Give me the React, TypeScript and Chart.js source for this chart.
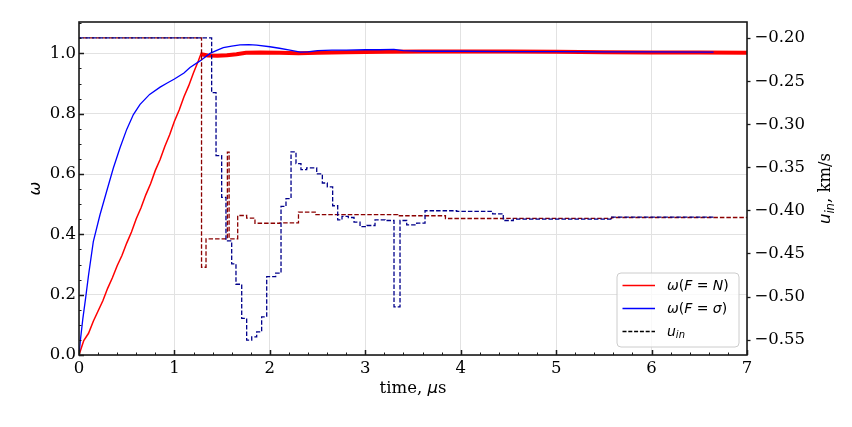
import { useEffect, useRef } from 'react'
import { Chart, registerables } from 'chart.js'

Chart.register(...registerables)

// axis ticks
const TIME_TICKS = [0, 1, 2, 3, 4, 5, 6, 7]
const OMEGA_TICKS = [0, 0.2, 0.4, 0.6, 0.8, 1.0]
const U_TICKS = [-0.55, -0.5, -0.45, -0.4, -0.35, -0.3, -0.25, -0.2]

// omega(F = N): rising part
const T_N = [0, 0.05, 0.1, 0.15, 0.2, 0.25, 0.3, 0.35, 0.4, 0.45, 0.5, 0.55, 0.6, 0.65, 0.7, 0.75, 0.8, 0.85, 0.9, 0.95, 1.0, 1.05, 1.1, 1.15, 1.2, 1.25, 1.28, 1.3]
const W_N = [0, 0.048, 0.072, 0.112, 0.146, 0.18, 0.221, 0.256, 0.296, 0.33, 0.371, 0.408, 0.452, 0.488, 0.531, 0.568, 0.612, 0.648, 0.692, 0.73, 0.775, 0.812, 0.856, 0.893, 0.936, 0.975, 1.0, 0.993]

// omega(F = N): noisy plateau (drawn as a thick band)
const T_NB = [1.28, 1.35, 1.45, 1.55, 1.65, 1.75, 1.9, 2.1, 2.3, 2.5, 2.8, 3.2, 3.6, 4.0, 4.5, 5.0, 5.5, 6.0, 6.5, 7.0]
const W_NB = [0.997, 0.993, 0.992, 0.994, 0.997, 1.002, 1.003, 1.002, 1.0, 1.002, 1.004, 1.005, 1.006, 1.006, 1.006, 1.005, 1.004, 1.003, 1.003, 1.002]

// omega(F = sigma)
const T_S = [0, 0.015, 0.04, 0.07, 0.1, 0.15, 0.22, 0.29, 0.36, 0.43, 0.5, 0.57, 0.64, 0.74, 0.85, 0.92, 1.0, 1.1, 1.163, 1.268, 1.373, 1.45, 1.512, 1.6, 1.687, 1.78, 1.862, 2.0, 2.1, 2.21, 2.32, 2.4, 2.5, 2.65, 2.8, 3.0, 3.15, 3.3, 3.4, 3.6, 4.0, 4.5, 5.0, 5.5, 6.0, 6.65]
const W_S = [0, 0.05, 0.12, 0.19, 0.265, 0.376, 0.465, 0.543, 0.62, 0.687, 0.748, 0.797, 0.831, 0.864, 0.888, 0.901, 0.915, 0.935, 0.953, 0.975, 1.0, 1.011, 1.019, 1.024, 1.028, 1.029, 1.027, 1.022, 1.017, 1.011, 1.004, 1.005, 1.009, 1.011, 1.011, 1.012, 1.012, 1.013, 1.009, 1.007, 1.007, 1.006, 1.006, 1.005, 1.005, 1.004]

// u_in, F = N (steps, value holds until next time)
const T_UN = [0, 1.284, 1.331, 1.555, 1.573, 1.663, 1.757, 1.844, 2.106, 2.3, 2.483, 3.34, 3.84, 4.446, 5.582, 7.0]
const U_N = [-0.1995, -0.4655, -0.4325, -0.332, -0.4325, -0.4055, -0.4085, -0.4145, -0.414, -0.4015, -0.4045, -0.4058, -0.409, -0.4088, -0.4078, -0.4078]

// u_in, F = sigma
const T_US = [0, 1.39, 1.436, 1.495, 1.54, 1.6, 1.645, 1.705, 1.757, 1.81, 1.862, 1.914, 1.967, 2.061, 2.117, 2.169, 2.222, 2.274, 2.326, 2.386, 2.491, 2.55, 2.602, 2.658, 2.711, 2.756, 2.822, 2.882, 2.945, 3.018, 3.102, 3.207, 3.301, 3.364, 3.434, 3.539, 3.626, 3.958, 4.335, 4.446, 4.551, 5.582, 6.647]
const U_S = [-0.1995, -0.2631, -0.336, -0.3845, -0.435, -0.4616, -0.4852, -0.5248, -0.55, -0.5462, -0.5403, -0.5229, -0.4764, -0.4724, -0.395, -0.386, -0.3317, -0.3453, -0.3523, -0.3503, -0.3573, -0.3678, -0.3724, -0.3942, -0.4105, -0.4066, -0.4078, -0.4131, -0.4183, -0.4171, -0.4105, -0.4113, -0.5113, -0.4113, -0.4163, -0.4143, -0.4, -0.4008, -0.4035, -0.4113, -0.4097, -0.4073, -0.4073]

const SERIF = 'DejaVu Serif'
const SANS = 'DejaVu Sans'
const FS = 16.5
const GRID = '#e2e2e2'
const SPINE = '#1a1a1a'

const pts = (ts: number[], vs: number[]) => ts.map((x, i) => ({ x, y: vs[i] }))

type Part = [string, string, number?]

function drawParts(ctx: CanvasRenderingContext2D, parts: Part[], x: number, y: number, center: boolean) {
  let w = 0
  for (const [s, f] of parts) {
    ctx.font = f
    w += ctx.measureText(s).width
  }
  let cx = center ? x - w / 2 : x
  for (const [s, f, dy] of parts) {
    ctx.font = f
    ctx.fillText(s, cx, y + (dy || 0))
    cx += ctx.measureText(s).width
  }
}

// spines and inward ticks on the left / bottom axes
const framePlugin = {
  id: 'frame',
  afterDatasetsDraw(chart: Chart) {
    const { ctx, chartArea: a } = chart
    const xs = chart.scales.x
    const ys = chart.scales.y
    ctx.save()
    ctx.strokeStyle = SPINE
    for (const major of [false, true]) {
      ctx.lineWidth = major ? 1.5 : 1
      ctx.beginPath()
      for (let i = 0; i <= 35; i++) {
        if ((i % 5 === 0) !== major) continue
        const px = Math.round(xs.getPixelForValue(i * 0.2)) + 0.5
        ctx.moveTo(px, a.bottom)
        ctx.lineTo(px, a.bottom - (major ? 5 : 2.5))
      }
      for (let i = 0; i <= 22; i++) {
        if (i * 0.05 > ys.max) break
        if ((i % 4 === 0) !== major) continue
        const py = Math.round(ys.getPixelForValue(i * 0.05)) + 0.5
        ctx.moveTo(a.left, py)
        ctx.lineTo(a.left + (major ? 5 : 2.5), py)
      }
      ctx.stroke()
    }
    ctx.lineWidth = 1.6
    ctx.strokeRect(a.left, a.top, a.right - a.left, a.bottom - a.top)
    ctx.restore()
  },
}

// axis titles with mixed fonts
const titlesPlugin = {
  id: 'titles',
  afterDraw(chart: Chart) {
    const { ctx, chartArea: a } = chart
    const midY = (a.top + a.bottom) / 2
    ctx.save()
    ctx.fillStyle = '#000'
    ctx.textBaseline = 'alphabetic'
    drawParts(ctx, [
      ['time, ', `${FS}px ${SERIF}`],
      ['\u03bc', `italic ${FS}px ${SANS}`],
      ['s', `${FS}px ${SERIF}`],
    ], (a.left + a.right) / 2, a.bottom + 38, true)

    ctx.save()
    ctx.translate(a.left - 39, midY)
    ctx.rotate(-Math.PI / 2)
    drawParts(ctx, [['\u03c9', `italic ${FS}px ${SANS}`]], 0, 0, true)
    ctx.restore()

    ctx.save()
    ctx.translate(a.right + 83, midY)
    ctx.rotate(-Math.PI / 2)
    drawParts(ctx, [
      ['u', `italic ${FS}px ${SANS}`],
      ['in', `italic ${FS * 0.7}px ${SANS}`, 3.5],
      [', km/s', `${FS}px ${SERIF}`],
    ], 0, 0, true)
    ctx.restore()
    ctx.restore()
  },
}

// legend box in the lower right corner
const legendPlugin = {
  id: 'boxLegend',
  afterDraw(chart: Chart) {
    const { ctx, chartArea: a } = chart
    const w = 122
    const h = 74
    const left = a.right - 8 - w
    const top = a.bottom - 8 - h
    ctx.save()
    ctx.beginPath()
    ctx.roundRect(left, top, w, h, 4)
    ctx.fillStyle = 'rgba(255,255,255,0.8)'
    ctx.fill()
    ctx.strokeStyle = '#cccccc'
    ctx.lineWidth = 1
    ctx.stroke()

    const it = `italic 14px ${SANS}`
    const rm = `14px ${SANS}`
    const rows: { color: string; dash: number[]; parts: Part[] }[] = [
      { color: '#ff0000', dash: [], parts: [['\u03c9', it], ['(', rm], ['F', it], [' = ', rm], ['N', it], [')', rm]] },
      { color: '#0000ff', dash: [], parts: [['\u03c9', it], ['(', rm], ['F', it], [' = ', rm], ['\u03c3', it], [')', rm]] },
      { color: '#000000', dash: [4, 1.8], parts: [['u', it], ['in', `italic 10px ${SANS}`, 3]] },
    ]
    rows.forEach((r, i) => {
      const y = top + 12.5 + i * 23
      ctx.beginPath()
      ctx.setLineDash(r.dash)
      ctx.strokeStyle = r.color
      ctx.lineWidth = 1.3
      ctx.moveTo(left + 5.5, y)
      ctx.lineTo(left + 38, y)
      ctx.stroke()
      ctx.setLineDash([])
      ctx.fillStyle = '#000'
      ctx.textBaseline = 'middle'
      drawParts(ctx, r.parts, left + 50, y + 1, false)
    })
    ctx.restore()
  },
}

export default function App() {
  const canvasRef = useRef<HTMLCanvasElement>(null)
  const chartRef = useRef<Chart | null>(null)

  useEffect(() => {
    if (!canvasRef.current) return
    const tickFont = { family: SERIF, size: FS }

    chartRef.current = new Chart(canvasRef.current, {
      type: 'line',
      data: {
        datasets: [
          {
            label: 'u_in sigma',
            data: pts(T_US, U_S),
            yAxisID: 'y2',
            borderColor: '#00008b',
            borderWidth: 1.3,
            borderDash: [4.5, 2],
            stepped: 'before',
            pointRadius: 0,
          },
          {
            label: 'u_in N',
            data: pts(T_UN, U_N),
            yAxisID: 'y2',
            borderColor: '#8b0000',
            borderWidth: 1.3,
            borderDash: [4.5, 2],
            borderDashOffset: 2.5,
            stepped: 'before',
            pointRadius: 0,
          },
          {
            label: 'omega sigma',
            data: pts(T_S, W_S),
            yAxisID: 'y',
            borderColor: '#0000ff',
            borderWidth: 1.3,
            pointRadius: 0,
          },
          {
            label: 'omega N band',
            data: pts(T_NB, W_NB),
            yAxisID: 'y',
            borderColor: '#ff0000',
            borderWidth: 4,
            pointRadius: 0,
          },
          {
            label: 'omega N',
            data: pts(T_N, W_N),
            yAxisID: 'y',
            borderColor: '#ff0000',
            borderWidth: 1.5,
            pointRadius: 0,
          },
        ],
      },
      options: {
        responsive: true,
        maintainAspectRatio: false,
        animation: false,
        events: [],
        layout: { padding: { top: 22, left: 0, right: 0, bottom: 0 } },
        plugins: {
          legend: { display: false },
          tooltip: { enabled: false },
        },
        scales: {
          x: {
            type: 'linear',
            min: 0,
            max: 7,
            bounds: 'data',
            afterBuildTicks: (s) => { s.ticks = TIME_TICKS.map(v => ({ value: v })) },
            afterFit: (s) => { s.height = 72 },
            ticks: {
              font: tickFont,
              color: '#000',
              padding: 4,
              autoSkip: false,
              maxRotation: 0,
              callback: (v) => String(v),
            },
            grid: { color: GRID, lineWidth: 1, drawTicks: false },
            border: { display: false },
          },
          y: {
            type: 'linear',
            position: 'left',
            min: 0,
            max: 1.104,
            bounds: 'data',
            afterBuildTicks: (s) => { s.ticks = OMEGA_TICKS.map(v => ({ value: v })) },
            afterFit: (s) => { s.width = 79 },
            ticks: {
              font: tickFont,
              color: '#000',
              padding: 3,
              autoSkip: false,
              callback: (v) => Number(v).toFixed(1),
            },
            grid: { color: GRID, lineWidth: 1, drawTicks: false },
            border: { display: false },
          },
          y2: {
            type: 'linear',
            position: 'right',
            min: -0.5672,
            max: -0.1812,
            bounds: 'data',
            afterBuildTicks: (s) => { s.ticks = U_TICKS.map(v => ({ value: v })) },
            afterFit: (s) => { s.width = 105 },
            ticks: {
              font: tickFont,
              color: '#000',
              padding: 4,
              autoSkip: false,
              callback: (v) => '\u2212' + Math.abs(Number(v)).toFixed(2),
            },
            grid: {
              drawOnChartArea: false,
              drawTicks: true,
              tickLength: 3.5,
              tickColor: SPINE,
              tickWidth: 1.3,
            },
            border: { display: false },
          },
        },
      },
      plugins: [framePlugin, titlesPlugin, legendPlugin],
    })

    return () => {
      if (chartRef.current) {
        chartRef.current.destroy()
        chartRef.current = null
      }
    }
  }, [])

  return (
    <div style={{ position: 'fixed', left: 0, top: 0, width: 852, height: 427, background: '#fff' }}>
      <canvas ref={canvasRef}></canvas>
    </div>
  )
}
